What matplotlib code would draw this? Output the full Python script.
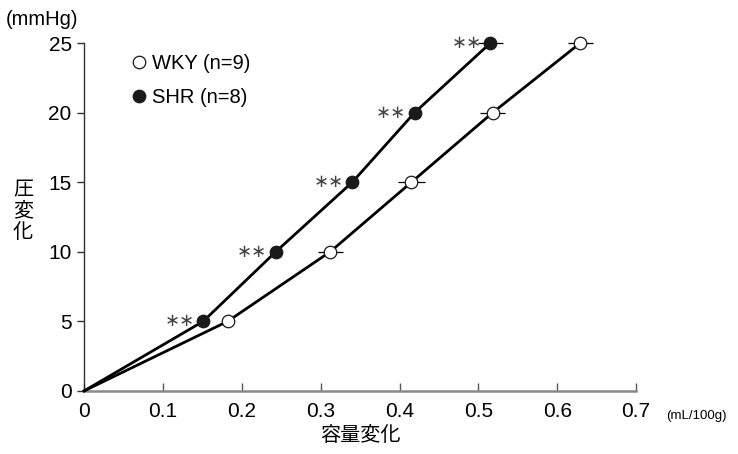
import matplotlib
matplotlib.use("Agg")
import matplotlib.pyplot as plt
from matplotlib.lines import Line2D

# 容量変化 (mL/100g) と圧変化 (mmHg)
pressure = [0, 5, 10, 15, 20, 25]
wky_volume = [0, 0.182, 0.312, 0.415, 0.518, 0.629]
wky_err = [0, 0.004, 0.016, 0.017, 0.016, 0.016]
shr_volume = [0, 0.151, 0.243, 0.340, 0.419, 0.515]
shr_err = [0, 0.003, 0.003, 0.003, 0.004, 0.016]
sig_marks = ["", "∗∗", "∗∗", "∗∗", "∗∗", "∗∗"]

xticks = [0, 0.1, 0.2, 0.3, 0.4, 0.5, 0.6, 0.7]
yticks = [0, 5, 10, 15, 20, 25]

plt.rcParams["font.family"] = ["Liberation Sans", "Noto Sans CJK JP", "DejaVu Sans"]
jp = ["Noto Sans CJK JP", "DejaVu Sans"]

fig = plt.figure(figsize=(7.38, 4.54), dpi=100)
ax = fig.add_axes([0.114, 0.139, 0.748, 0.766])

ms = 9
for vol, err, fill, z in [(wky_volume, wky_err, "white", 3),
                          (shr_volume, shr_err, "#1a1a1a", 4)]:
    # 原点から折れ線、0 以外の点に印と誤差棒
    ax.plot(vol, pressure, color="black", lw=2.0, zorder=z, clip_on=False)
    ax.errorbar(vol[1:], pressure[1:], xerr=err[1:], fmt="o", ms=ms,
                mfc=fill, mec="#1a1a1a", mew=0.9, ecolor="black",
                elinewidth=0.9, capsize=0, zorder=z + 0.5, clip_on=False)

# 有意差の印
for x, y, s in zip(shr_volume, pressure, sig_marks):
    if s:
        ax.annotate(s, (x, y), xytext=(-17, 0), textcoords="offset points",
                    ha="center", va="center", fontsize=13, color="#444444",
                    family="DejaVu Sans")

ax.set_xlim(0, 0.7)
ax.set_ylim(0, 25)
ax.set_xticks(xticks)
ax.set_xticklabels([f"{t:g}" for t in xticks], fontsize=15)
ax.set_yticks(yticks)
ax.set_yticklabels([str(t) for t in yticks], fontsize=15)
ax.tick_params(axis="x", direction="in", length=6, width=1, color="#555555", pad=8)
ax.tick_params(axis="y", direction="out", length=5, width=1, color="#333333", pad=4)

for side in ["top", "right"]:
    ax.spines[side].set_visible(False)
ax.spines["left"].set_color("#333333")
ax.spines["left"].set_linewidth(1.0)
ax.spines["bottom"].set_color("#888888")
ax.spines["bottom"].set_linewidth(1.8)

ax.set_xlabel("容量変化", family=jp, fontsize=14.5, labelpad=3)
fig.text(0.031, 0.535, "圧\n変\n化", family=jp, fontsize=14.5,
         ha="center", va="center", linespacing=1.0)
fig.text(0.008, 0.958, "(mmHg)", fontsize=14.5, ha="left", va="center")
fig.text(0.902, 0.083, "(mL/100g)", fontsize=9.5, ha="left", va="center")

handles = [
    Line2D([], [], ls="none", marker="o", ms=ms, mfc="white", mec="#1a1a1a", mew=0.9),
    Line2D([], [], ls="none", marker="o", ms=ms, mfc="#1a1a1a", mec="#1a1a1a", mew=0.9),
]
ax.legend(handles, ["WKY (n=9)", "SHR (n=8)"], loc="upper left",
          bbox_to_anchor=(0.045, 1.02), frameon=False, fontsize=14.5,
          handletextpad=0.05, labelspacing=0.75, handlelength=1.2)

fig.savefig("out.png", dpi=100)
